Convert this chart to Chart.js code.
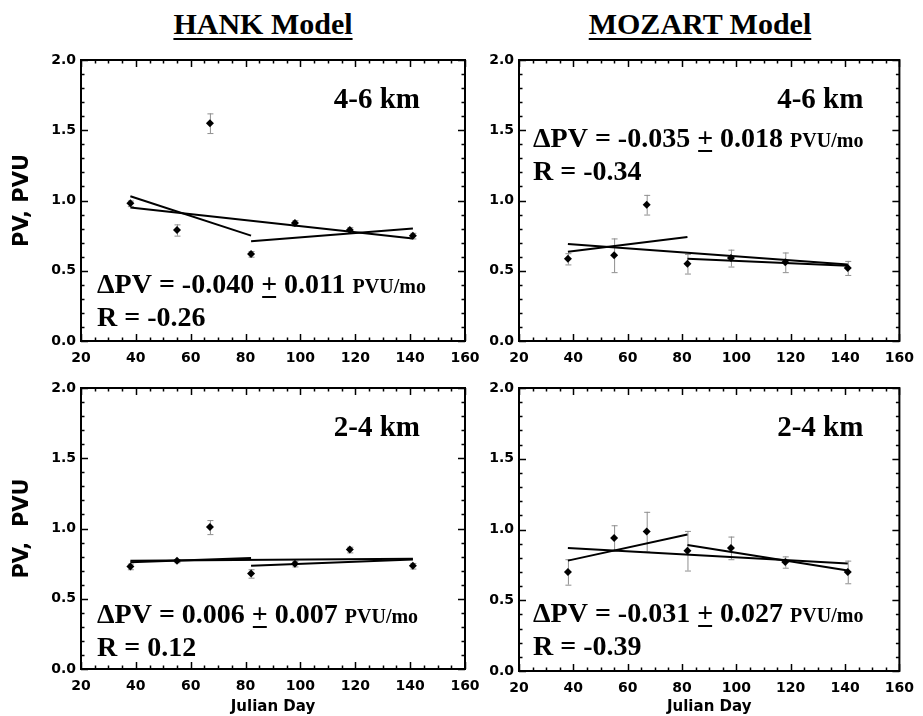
<!DOCTYPE html>
<html>
<head>
<meta charset="utf-8">
<script src="https://cdn.jsdelivr.net/npm/chart.js@4"></script>
<style>
  body { margin: 0; background: #fff; width: 923px; height: 716px; position: relative; overflow: hidden; }
  canvas { position: absolute; }
  .ttl { position: absolute; top: 7px; font: bold 30px "Liberation Serif", serif; text-decoration: underline;
         text-decoration-thickness: 2px; text-underline-offset: 4px; color: #000; white-space: nowrap;
         transform: translateX(-50%); }
</style>
</head>
<body>
<div class="ttl" style="left:263px;">HANK Model</div>
<div class="ttl" style="left:700px;">MOZART Model</div>
<canvas id="c1" style="left:0;top:40px;"></canvas>
<canvas id="c2" style="left:470px;top:40px;"></canvas>
<canvas id="c3" style="left:0;top:368px;"></canvas>
<canvas id="c4" style="left:470px;top:368px;"></canvas>
<script>
// ── DATA ──────────────────────────────────────────────────────────────────────
var days = [38, 55, 67, 82, 98, 118, 141];

var hank46 = [0.98, 0.79, 1.55, 0.62, 0.84, 0.79, 0.75];
var hank46Err = [0.02, 0.04, 0.07, 0.02, 0.02, 0.02, 0.02];
var mozart46 = [0.585, 0.61, 0.97, 0.55, 0.59, 0.56, 0.52];
var mozart46Err = [0.04, 0.12, 0.07, 0.07, 0.06, 0.07, 0.05];
var hank24 = [0.73, 0.77, 1.01, 0.68, 0.75, 0.85, 0.735];
var hank24Err = [0.02, 0.01, 0.05, 0.03, 0.02, 0.02, 0.02];
var mozart24 = [0.70, 0.94, 0.985, 0.85, 0.87, 0.77, 0.70];
var mozart24Err = [0.09, 0.09, 0.14, 0.14, 0.08, 0.04, 0.08];

// regression lines: whole period, early part, late part (start / end values)
var fitAllDays = [38, 141];
var fitEarlyDays = [38, 82];
var fitLateDays = [82, 141];
var hank46FitAll = [0.95, 0.73], hank46FitEarly = [1.03, 0.75], hank46FitLate = [0.71, 0.80];
var mozart46FitAll = [0.69, 0.545], mozart46FitEarly = [0.635, 0.74], mozart46FitLate = [0.585, 0.535];
var hank24FitAll = [0.77, 0.785], hank24FitEarly = [0.76, 0.79], hank24FitLate = [0.735, 0.78];
var mozart24FitAll = [0.87, 0.76], mozart24FitEarly = [0.78, 0.965], mozart24FitLate = [0.89, 0.71];

var xTicks = [20, 40, 60, 80, 100, 120, 140, 160];
var yTicks = [0.0, 0.5, 1.0, 1.5, 2.0];

// ── PLUGIN: error bars, framed box with inward ticks, panel text ─────────────
var SERIF = '"Liberation Serif", "Times New Roman", serif';
var SANS = '"DejaVu Sans", sans-serif';

function drawEq(ctx, x, y, slope, err, rtxt) {
  ctx.fillStyle = '#000';
  ctx.textAlign = 'left';
  ctx.textBaseline = 'alphabetic';
  ctx.font = 'bold 28px ' + SERIF;
  var s1 = '\u0394PV = ' + slope + ' ';
  ctx.fillText(s1, x, y);
  var cx = x + ctx.measureText(s1).width;
  var pw = ctx.measureText('+').width;
  ctx.fillText('+', cx, y);
  ctx.fillRect(cx + 1, y + 3, pw - 2, 2);
  cx += pw;
  var s2 = ' ' + err + ' ';
  ctx.fillText(s2, cx, y);
  cx += ctx.measureText(s2).width;
  ctx.font = 'bold 20px ' + SERIF;
  ctx.fillText('PVU/mo', cx, y);
  ctx.font = 'bold 28px ' + SERIF;
  ctx.fillText('R = ' + rtxt, x, y + 33);
}

var panelPlugin = {
  id: 'panel',
  beforeDatasetsDraw: function(chart, args, o) {
    var ctx = chart.ctx, xs = chart.scales.x, ys = chart.scales.y;
    ctx.save();
    ctx.strokeStyle = '#8f8f8f';
    ctx.lineWidth = 1;
    for (var i = 0; i < o.vals.length; i++) {
      var px = xs.getPixelForValue(days[i]);
      var top = ys.getPixelForValue(o.vals[i] + o.errs[i]);
      var bot = ys.getPixelForValue(o.vals[i] - o.errs[i]);
      ctx.beginPath();
      ctx.moveTo(px + 0.5, top); ctx.lineTo(px + 0.5, bot);
      ctx.moveTo(px - 2.5, top + 0.5); ctx.lineTo(px + 3.5, top + 0.5);
      ctx.moveTo(px - 2.5, bot + 0.5); ctx.lineTo(px + 3.5, bot + 0.5);
      ctx.stroke();
    }
    ctx.restore();
  },
  afterDraw: function(chart, args, o) {
    var ctx = chart.ctx, a = chart.chartArea, xs = chart.scales.x, ys = chart.scales.y;
    ctx.save();
    ctx.strokeStyle = '#000';
    ctx.lineWidth = 1.5;
    ctx.beginPath();
    var v, p, len;
    for (v = 20; v <= 160; v += 5) {
      p = Math.round(xs.getPixelForValue(v)) + 0.5;
      len = v % 20 === 0 ? 7 : 3.5;
      ctx.moveTo(p, a.bottom); ctx.lineTo(p, a.bottom - len);
      ctx.moveTo(p, a.top); ctx.lineTo(p, a.top + len);
    }
    for (var k = 0; k <= 20; k++) {
      p = Math.round(ys.getPixelForValue(k / 10)) + 0.5;
      len = k % 5 === 0 ? 7 : 3.5;
      ctx.moveTo(a.left, p); ctx.lineTo(a.left + len, p);
      ctx.moveTo(a.right, p); ctx.lineTo(a.right - len, p);
    }
    ctx.stroke();
    ctx.lineWidth = 2;
    ctx.strokeRect(a.left, a.top, a.right - a.left, a.bottom - a.top);

    ctx.fillStyle = '#000';
    ctx.font = 'bold 29px ' + SERIF;
    ctx.textAlign = 'right';
    ctx.textBaseline = 'alphabetic';
    ctx.fillText(o.layer, a.right - o.layerDx, a.top + 48);
    var ey = o.eqFromTop ? a.top + o.eqDy : a.bottom - o.eqDy;
    drawEq(ctx, a.left + o.eqDx, ey, o.slope, o.err, o.r);
    ctx.restore();
  }
};

function line(xr, yr) {
  return {
    data: [{ x: xr[0], y: yr[0] }, { x: xr[1], y: yr[1] }],
    showLine: true, borderColor: '#000', borderWidth: 2, pointRadius: 0, fill: false
  };
}

function makePanel(id, w, h, cfg) {
  var canvas = document.getElementById(id);
  canvas.width = w; canvas.height = h;
  canvas.style.width = w + 'px'; canvas.style.height = h + 'px';
  var pts = days.map(function(d, i) { return { x: d, y: cfg.vals[i] }; });
  return new Chart(canvas, {
    type: 'scatter',
    data: {
      datasets: [
        { data: pts, pointStyle: 'rectRot', pointRadius: 4, backgroundColor: '#000', borderWidth: 0 },
        line(fitAllDays, cfg.fitAll),
        line(fitEarlyDays, cfg.fitEarly),
        line(fitLateDays, cfg.fitLate)
      ]
    },
    options: {
      responsive: false,
      devicePixelRatio: 1,
      animation: false,
      layout: { padding: { top: 20, right: cfg.padRight, left: 0, bottom: 0 } },
      plugins: {
        legend: { display: false },
        tooltip: { enabled: false },
        panel: cfg
      },
      scales: {
        x: {
          type: 'linear', min: 20, max: 160,
          afterBuildTicks: function(s) { s.ticks = xTicks.map(function(v) { return { value: v }; }); },
          ticks: { color: '#000', font: { family: SANS, size: 14, weight: 'bold' }, padding: 9, maxRotation: 0, autoSkip: false },
          grid: { display: false, drawTicks: false },
          border: { display: false },
          title: { display: cfg.xTitle, text: 'Julian Day', color: '#000', font: { family: SANS, size: 15, weight: 'bold' }, padding: { top: 0, bottom: 0 } },
          afterFit: function(s) { s.height = cfg.xHeight; }
        },
        y: {
          type: 'linear', min: 0, max: 2,
          afterBuildTicks: function(s) { s.ticks = yTicks.map(function(v) { return { value: v }; }); },
          ticks: { color: '#000', font: { family: SANS, size: 14, weight: 'bold' }, padding: 5,
                   callback: function(v) { return v.toFixed(1); } },
          grid: { display: false, drawTicks: false },
          border: { display: false },
          title: { display: !!cfg.yTitle, text: cfg.yTitle || '', color: '#000', font: { family: SANS, size: 21, weight: 'bold' }, padding: { top: 10, bottom: 0 } },
          afterFit: function(s) { s.width = cfg.yWidth; }
        }
      }
    },
    plugins: [panelPlugin]
  });
}

makePanel('c1', 490, 335, {
  vals: hank46, errs: hank46Err, fitAll: hank46FitAll, fitEarly: hank46FitEarly, fitLate: hank46FitLate,
  layer: '4-6 km', layerDx: 45, slope: '-0.040', err: '0.011', r: '-0.26', eqDx: 16, eqDy: 48, eqFromTop: false,
  yTitle: 'PV, PVU', yWidth: 81, padRight: 25, xHeight: 34, xTitle: false
});
makePanel('c2', 453, 335, {
  vals: mozart46, errs: mozart46Err, fitAll: mozart46FitAll, fitEarly: mozart46FitEarly, fitLate: mozart46FitLate,
  layer: '4-6 km', layerDx: 36, slope: '-0.035', err: '0.018', r: '-0.34', eqDx: 14, eqDy: 87, eqFromTop: true,
  yTitle: '', yWidth: 49, padRight: 20, xHeight: 34, xTitle: false
});
makePanel('c3', 490, 348, {
  vals: hank24, errs: hank24Err, fitAll: hank24FitAll, fitEarly: hank24FitEarly, fitLate: hank24FitLate,
  layer: '2-4 km', layerDx: 45, slope: '0.006', err: '0.007', r: '0.12', eqDx: 16, eqDy: 46, eqFromTop: false,
  yTitle: 'PV,  PVU', yWidth: 81, padRight: 25, xHeight: 47, xTitle: true
});
makePanel('c4', 453, 348, {
  vals: mozart24, errs: mozart24Err, fitAll: mozart24FitAll, fitEarly: mozart24FitEarly, fitLate: mozart24FitLate,
  layer: '2-4 km', layerDx: 36, slope: '-0.031', err: '0.027', r: '-0.39', eqDx: 14, eqDy: 49, eqFromTop: false,
  yTitle: '', yWidth: 49, padRight: 18, xHeight: 45, xTitle: true
});
</script>
</body>
</html>
